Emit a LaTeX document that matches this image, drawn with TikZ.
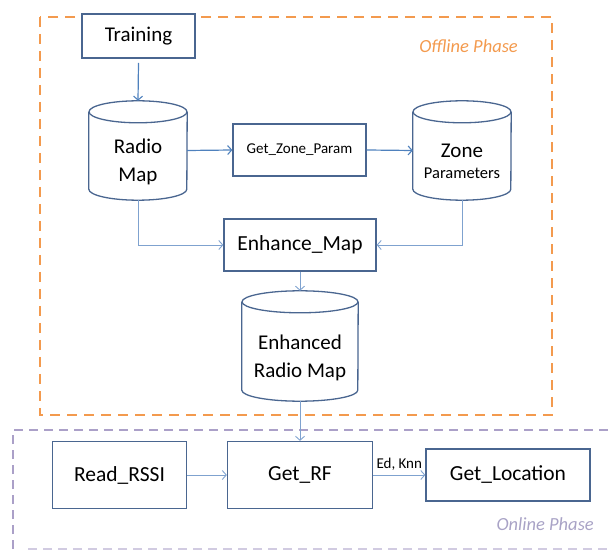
\documentclass[tikz,border=0pt]{standalone}
\usepackage{fontspec}
\setmainfont{Carlito}
\usetikzlibrary{arrows.meta,calc}
\definecolor{boxc}{HTML}{4A6690}
\definecolor{arrc}{HTML}{4F81BD}
\definecolor{thinc}{HTML}{7FA2CF}
\definecolor{offc}{HTML}{F39A4E}
\definecolor{onc}{HTML}{ABA0C8}
\definecolor{ontxt}{HTML}{A9A3C6}
\tikzset{
  procbox/.style={draw=boxc,line width=1.3pt,rectangle,inner sep=0pt,align=center,fill=white},
  cylbox/.style={rectangle,draw=none,inner sep=0pt,align=center},
  cylline/.style={draw=boxc,line width=1.3pt},
  mainarr/.style={draw=arrc,line width=1.2pt,-{Straight Barb[length=4pt,width=9pt,line width=1.1pt]}},
  thinarr/.style={draw=thinc,line width=0.9pt,-{Straight Barb[length=4pt,width=9pt,line width=0.9pt]}},
  phasetxt/.style={font=\itshape\fontsize{18.5}{20}\selectfont,inner sep=0pt},
}
\begin{document}
\begin{tikzpicture}[x=1pt,y=1pt]
\useasboundingbox (0,0) rectangle (613,552);
% phase frames
\begin{scope}
\clip (0,0) rectangle (613,552);
\draw[offc,line width=2.6pt,dash pattern=on 10pt off 7pt] (40,535) rectangle (552,137);
\draw[onc,line width=2.2pt,dash pattern=on 9pt off 6pt] (13,3) -- (13,122) -- (650,122);
\draw[onc!55,line width=2.2pt,dash pattern=on 9pt off 6pt] (28,3) -- (650,3);
\end{scope}
\node[phasetxt,text=offc,anchor=east] (offl) at (518,506) {Offline Phase};
\node[phasetxt,text=ontxt,anchor=east] (onl) at (594,28) {Online Phase};

% Training
\node[procbox,minimum width=113pt,minimum height=44pt,font=\fontsize{21}{24}\selectfont] (train) at (138.5,516) {Training};

% cylinders (named nodes holding the text; outlines drawn below)
\node[cylbox,minimum width=98pt,minimum height=99pt,font=\fontsize{21}{28}\selectfont] (radio) at (138,401.5) {\\[9pt]Radio\\Map};
\node[cylbox,minimum width=98pt,minimum height=99pt] (zone) at (462,401.5) {\\[21pt]{\fontsize{21}{24}\selectfont Zone}\\[9pt]{\fontsize{16.5}{18}\selectfont Parameters}};
\node[cylbox,minimum width=116pt,minimum height=110pt,font=\fontsize{21}{28}\selectfont] (enh) at (300,206) {\\[10pt]Enhanced\\Radio Map};

\foreach \n/\rx in {radio/49,zone/49,enh/58}{
  \draw[cylline] ($(\n.north west)+(0,-11)$) -- ($(\n.south west)+(0,11)$)
     arc[start angle=180,end angle=360,x radius=\rx pt,y radius=11pt]
     -- ($(\n.north east)+(0,-11)$);
  \draw[cylline] ($(\n.north)+(0,-11)$) ellipse[x radius=\rx pt,y radius=11pt];
}

% boxes
\node[procbox,minimum width=133pt,minimum height=52pt,font=\fontsize{15}{18}\selectfont] (gzp) at (299.5,402) {Get\_Zone\_Param};
\node[procbox,minimum width=152pt,minimum height=52pt,font=\fontsize{21.5}{24}\selectfont] (emap) at (300,307) {Enhance\_Map};
\node[procbox,minimum width=134pt,minimum height=67pt,font=\fontsize{21.5}{24}\selectfont] (rssi) at (119.5,77) {Read\_RSSI};
\node[procbox,minimum width=145pt,minimum height=67pt,font=\fontsize{21.5}{24}\selectfont] (grf) at (300,77) {Get\_RF};
\node[procbox,minimum width=164pt,minimum height=52pt,font=\fontsize{21.5}{24}\selectfont] (gloc) at (508,77) {Get\_Location};

% connectors
\draw[mainarr] (train.south |- 0,489) -- (radio.north);
\draw[mainarr] (radio.east) -- (gzp.west);
\draw[mainarr] (gzp.east) -- (zone.west);
\draw[thinarr] (radio.south) |- (emap.west);
\draw[thinarr] (zone.south) |- (emap.east);
\draw[thinarr] (emap.south) -- (enh.north);
\draw[thinarr] (enh.south) -- (grf.north);
\draw[thinarr] (rssi.east) -- (grf.west);
\draw[thinarr] (grf.east) -- node[above,font=\fontsize{15}{16}\selectfont,inner sep=4pt,pos=0.5] (edknn) {Ed, Knn} (gloc.west);
\end{tikzpicture}
\end{document}
